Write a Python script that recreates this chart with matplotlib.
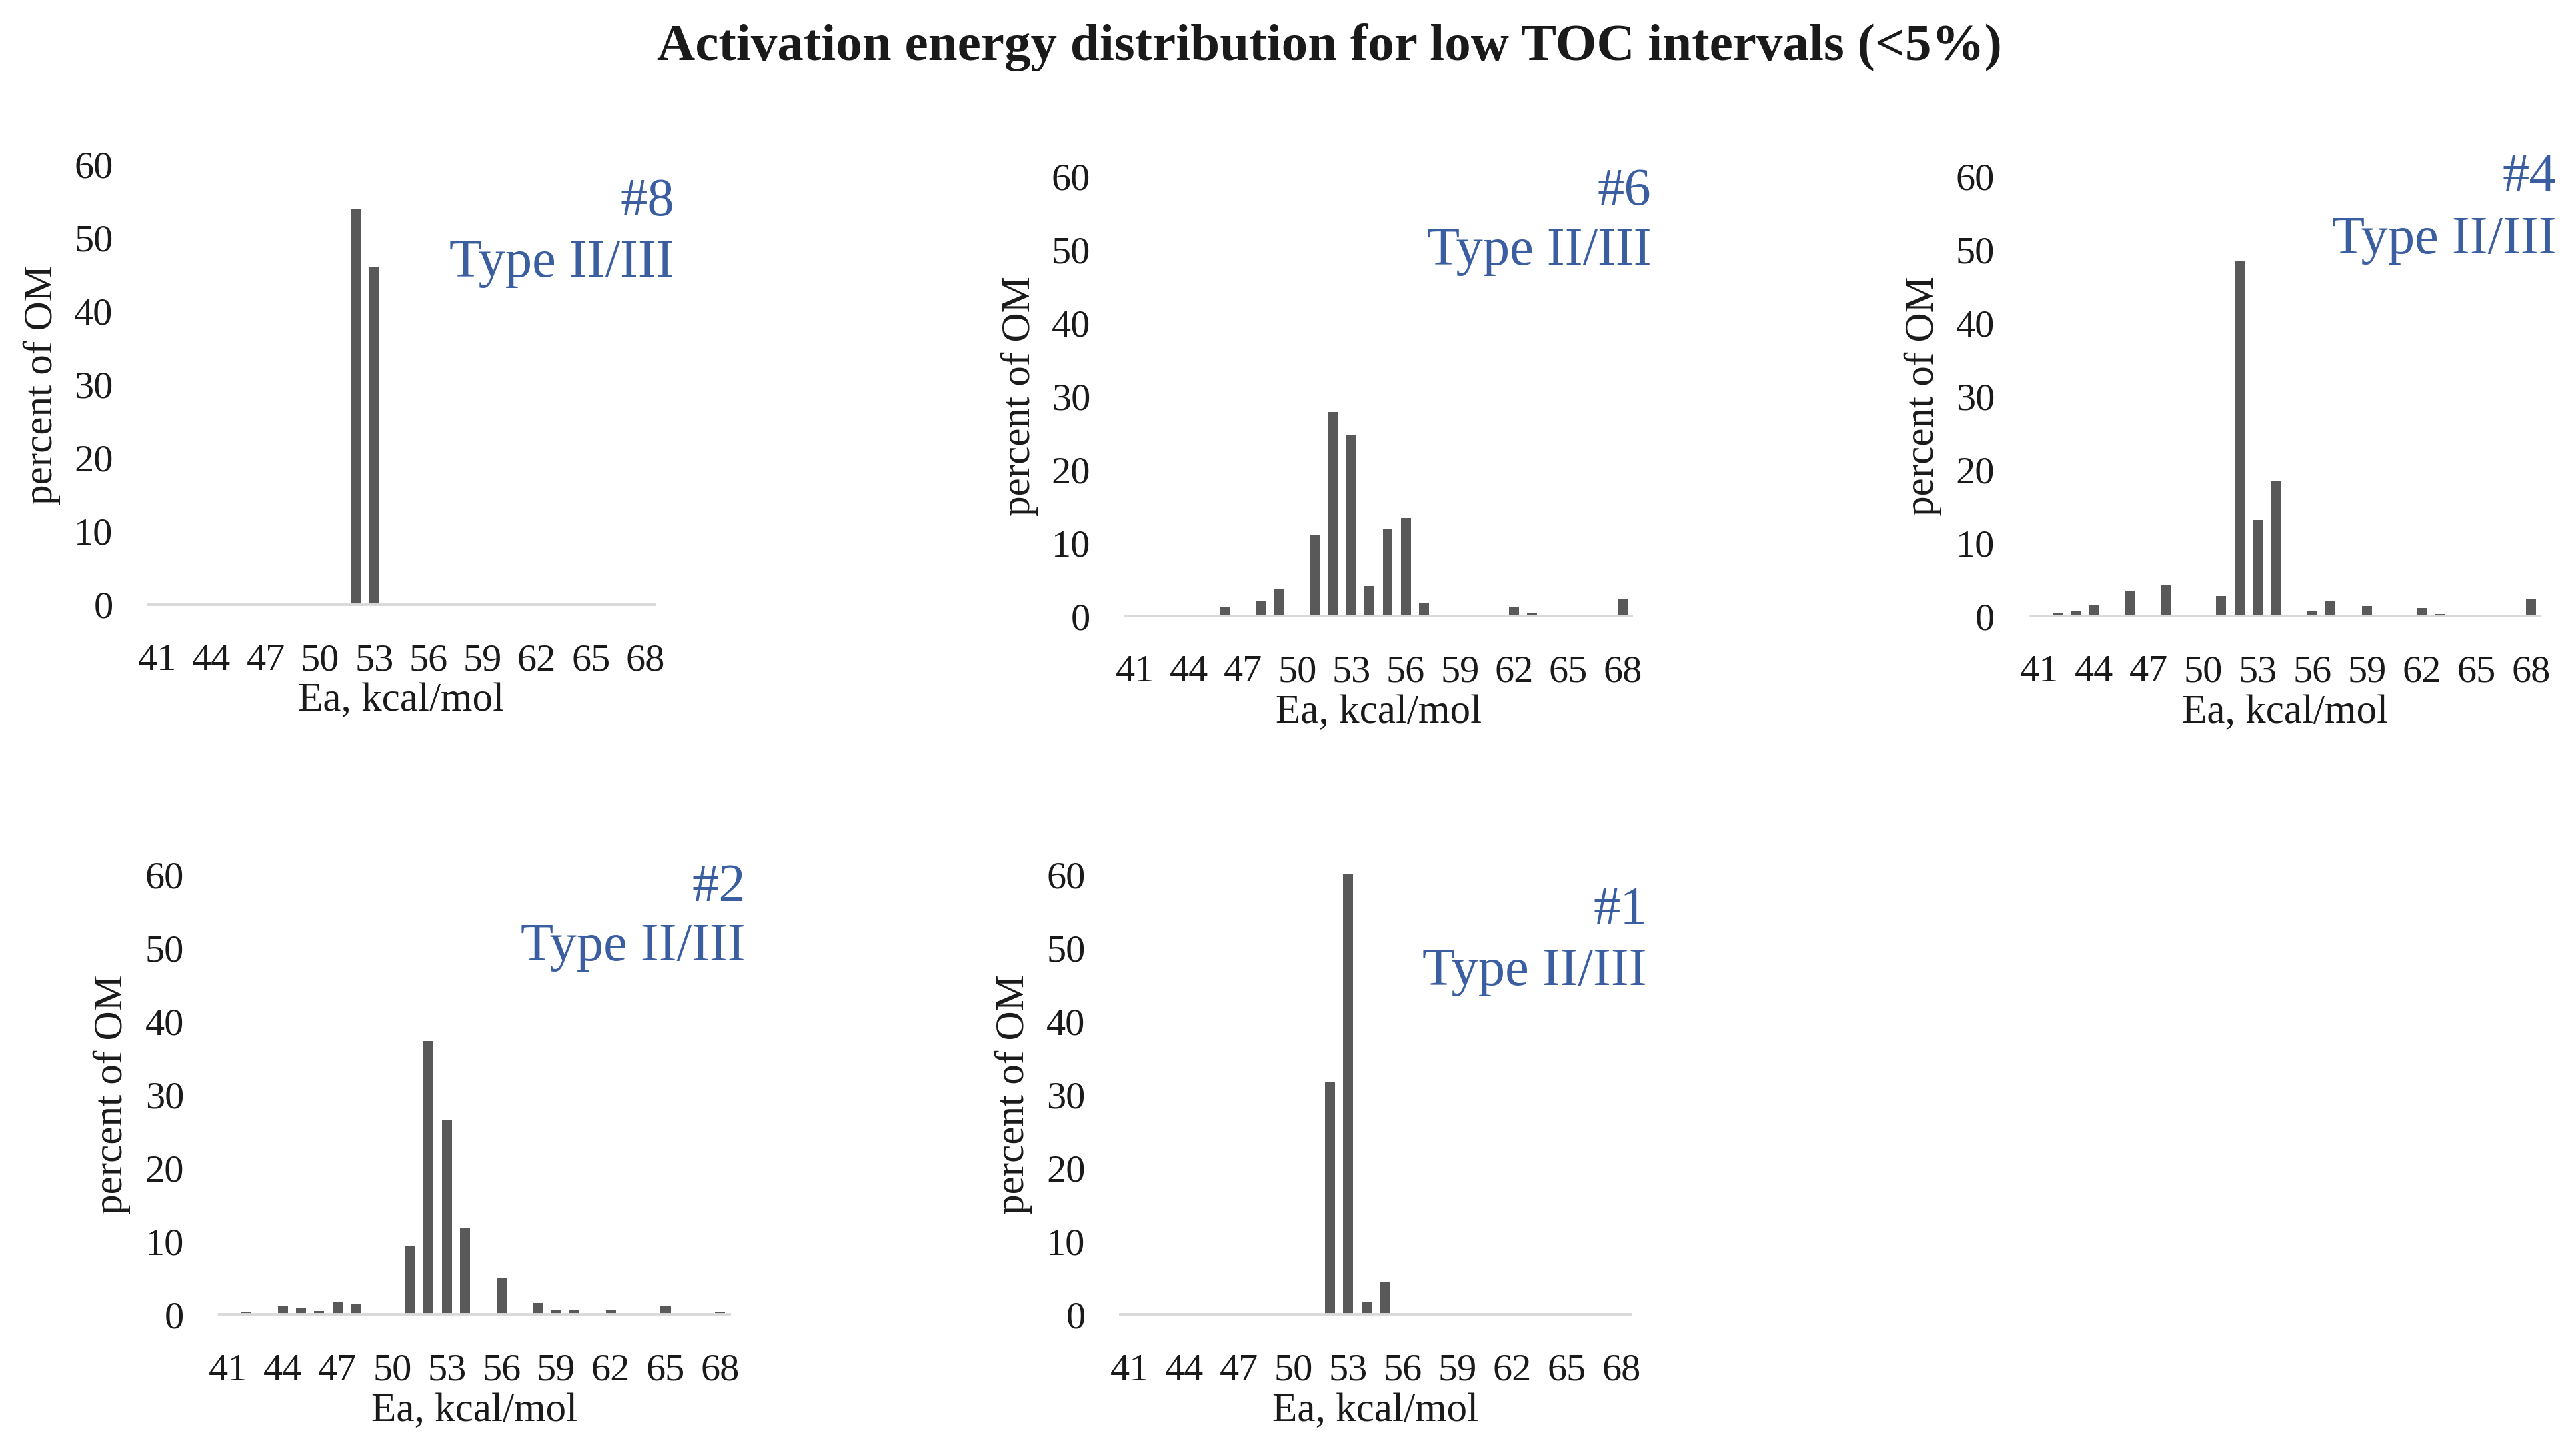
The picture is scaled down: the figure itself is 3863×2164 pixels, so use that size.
import numpy as np
import matplotlib
matplotlib.use('Agg')
import matplotlib.pyplot as plt

plt.rcParams['font.family'] = ['Liberation Serif', 'DejaVu Serif']

# энергии активации, ккал/моль (категории)
ea = list(range(41, 69))
tick_labels = [str(v) for v in ea[::3]]

# процент ОВ по категориям 41..68
s8 = [0, 0, 0, 0, 0, 0, 0, 0, 0, 0, 0, 54.0, 46.0, 0,
      0, 0, 0, 0, 0, 0, 0, 0, 0, 0, 0, 0, 0, 0]
s6 = [0, 0, 0, 0, 0, 1.2, 0, 2.0, 3.6, 0, 11.1, 27.8, 24.6, 4.1,
      11.8, 13.4, 1.8, 0, 0, 0, 0, 1.2, 0.5, 0, 0, 0, 0, 2.4]
s4 = [0, 0.4, 0.6, 1.5, 0, 3.4, 0, 4.2, 0, 0, 2.7, 48.4, 13.1, 18.5,
      0, 0.6, 2.1, 0, 1.4, 0, 0, 1.1, 0.3, 0, 0, 0, 0, 2.3]
s2 = [0, 0.4, 0, 1.2, 0.9, 0.5, 1.7, 1.4, 0, 0, 9.3, 37.3, 26.6, 11.9,
      0, 5.0, 0, 1.6, 0.6, 0.7, 0, 0.7, 0, 0, 1.1, 0, 0, 0.4]
s1 = [0, 0, 0, 0, 0, 0, 0, 0, 0, 0, 0, 31.7, 60.0, 1.7,
      4.4, 0, 0, 0, 0, 0, 0, 0, 0, 0, 0, 0, 0, 0]

names = ['#8', '#6', '#4', '#2', '#1']
series = [s8, s6, s4, s2, s1]

BAR_COLOR = '#595959'
AXIS_COLOR = '#d9d9d9'
LABEL_BLUE = '#3a5ea0'
TEXT_COLOR = '#1a1a1a'

# положение осей [left, bottom, width, height] и подписи (x, y#, yType)
boxes = [
    [0.0576, 0.581, 0.1964, 0.305],
    [0.437, 0.573, 0.1964, 0.305],
    [0.788, 0.573, 0.198, 0.305],
    [0.0851, 0.089, 0.198, 0.305],
    [0.435, 0.089, 0.198, 0.305],
]
text_pos = [
    (1.039, 0.914, 0.775),
    (1.039, 0.963, 0.828),
    (1.032, 0.996, 0.854),
    (1.032, 0.970, 0.835),
    (1.032, 0.918, 0.779),
]

fig = plt.figure(figsize=(19.315, 10.82), dpi=200)
fig.text(0.516, 0.967, 'Activation energy distribution for low TOC intervals (<5%)',
         ha='center', va='center', fontsize=28.5, fontweight='bold', color=TEXT_COLOR)

x = np.arange(len(ea))
for name, vals, box, (tx, ty1, ty2) in zip(names, series, boxes, text_pos):
    ax = fig.add_axes(box)
    ax.bar(x, vals, width=0.55, color=BAR_COLOR)
    ax.set_xlim(-0.5, len(ea) - 0.5)
    ax.set_ylim(0, 60)
    ax.set_xticks(x[::3])
    ax.set_xticklabels(tick_labels)
    ax.set_yticks(np.arange(0, 61, 10))
    ax.tick_params(axis='both', length=0, labelsize=21, colors=TEXT_COLOR)
    ax.tick_params(axis='x', pad=21)
    ax.tick_params(axis='y', pad=19)
    for s in ['top', 'right', 'left']:
        ax.spines[s].set_visible(False)
    ax.spines['bottom'].set_color(AXIS_COLOR)
    ax.spines['bottom'].set_linewidth(1.4)
    ax.set_xlabel('Ea, kcal/mol', fontsize=22, color=TEXT_COLOR)
    ax.set_ylabel('percent of OM', fontsize=22, color=TEXT_COLOR)
    ax.xaxis.label.set_va('center')
    ax.xaxis.set_label_coords(0.5, -0.22)
    ax.yaxis.label.set_va('center')
    ax.yaxis.set_label_coords(-0.21, 0.5)
    ax.text(tx, ty1, name, transform=ax.transAxes, ha='right', va='center',
            fontsize=29, color=LABEL_BLUE)
    ax.text(tx, ty2, 'Type II/III', transform=ax.transAxes, ha='right', va='center',
            fontsize=29, color=LABEL_BLUE)

fig.savefig('out.png', dpi=200)
